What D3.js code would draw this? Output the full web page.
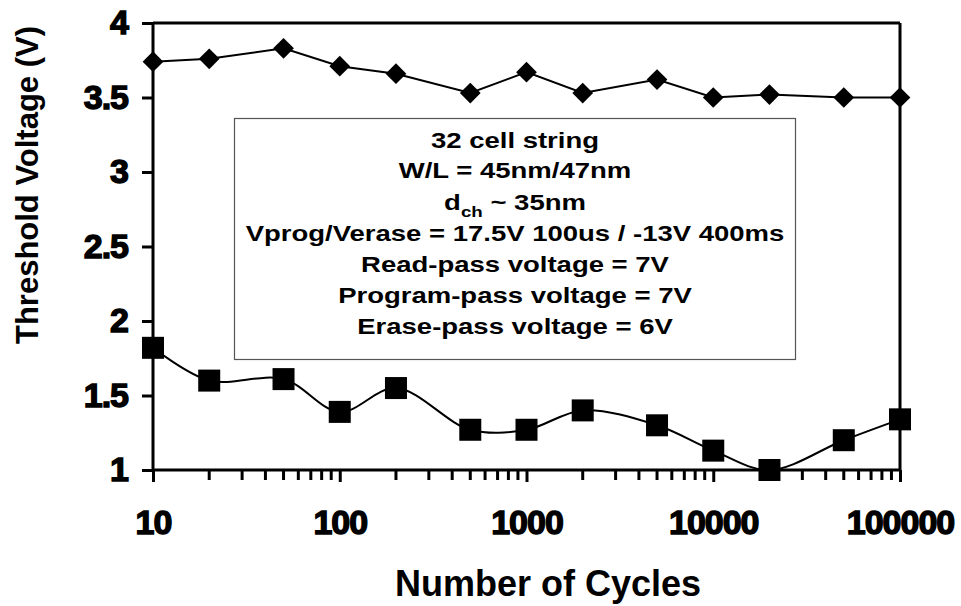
<!DOCTYPE html>
<html>
<head>
<meta charset="utf-8">
<script src="https://cdn.jsdelivr.net/npm/d3@7/dist/d3.min.js"></script>
<style>
  html, body { margin: 0; padding: 0; background: #fff; }
  svg { display: block; }
  text { font-family: "Liberation Sans", Arial, sans-serif; fill: #000; }
</style>
</head>
<body>
<svg id="chart" width="961" height="606"></svg>
<script>
// ---- data ----
const cycles = [10, 20, 50, 100, 200, 500, 1000, 2000, 5000, 10000, 20000, 50000, 100000];
const erasedVt = [3.74, 3.76, 3.83, 3.71, 3.66, 3.53, 3.67, 3.53, 3.62, 3.50, 3.52, 3.50, 3.50];
const programmedVt = [1.82, 1.60, 1.61, 1.39, 1.55, 1.27, 1.27, 1.40, 1.30, 1.13, 1.00, 1.20, 1.34];
const xTickValues = [10, 100, 1000, 10000, 100000];
const yTickValues = [1, 1.5, 2, 2.5, 3, 3.5, 4];
const yTickLabels = ["1", "1.5", "2", "2.5", "3", "3.5", "4"];
const infoLines = [
  "32 cell string",
  "W/L = 45nm/47nm",
  "d_ch ~ 35nm",
  "Vprog/Verase = 17.5V 100us / -13V 400ms",
  "Read-pass voltage = 7V",
  "Program-pass voltage = 7V",
  "Erase-pass voltage = 6V"
];
const xTitle = "Number of Cycles";
const yTitle = "Threshold Voltage (V)";

(function () {
// ---- layout ----
const svg = d3.select("#chart");
const pLeft = 153, pRight = 900, pTop = 23, pBottom = 470;

const x = d3.scaleLog().domain([10, 100000]).range([pLeft, pRight]);
const y = d3.scaleLinear().domain([1, 4]).range([pBottom, pTop]);

// minor ticks
const minorTicks = [];
for (let d = 10; d < 100000; d *= 10) for (let k = 2; k <= 9; k++) minorTicks.push(d * k);

// frame (top & right)
svg.append("line").attr("x1", pLeft).attr("x2", pRight).attr("y1", pTop).attr("y2", pTop)
  .attr("stroke", "#000").attr("stroke-width", 3);
svg.append("line").attr("x1", pRight).attr("x2", pRight).attr("y1", pTop).attr("y2", pBottom)
  .attr("stroke", "#000").attr("stroke-width", 3);

// x axis
const xAxis = d3.axisBottom(x).tickValues(xTickValues).tickFormat(d3.format("d")).tickSize(12).tickPadding(28);
const gx = svg.append("g").attr("transform", `translate(0,${pBottom})`).call(xAxis);
gx.select(".domain").attr("stroke-width", 3).attr("d", `M${pLeft},0H${pRight}`);
gx.selectAll(".tick line").attr("stroke-width", 3);
gx.selectAll(".tick text")
  .attr("font-size", 34).attr("font-weight", "bold").attr("letter-spacing", "-1px")
  .attr("stroke", "#000").attr("stroke-width", 1.4)
  .attr("font-family", "'Liberation Sans', Arial, sans-serif");
svg.append("g").selectAll("line").data(minorTicks).join("line")
  .attr("x1", d => x(d)).attr("x2", d => x(d))
  .attr("y1", pBottom).attr("y2", pBottom + 10)
  .attr("stroke", "#000").attr("stroke-width", 3);

// y axis
const yAxis = d3.axisLeft(y).tickValues(yTickValues)
  .tickFormat((d, i) => yTickLabels[i]).tickSize(11).tickPadding(14);
const gy = svg.append("g").attr("transform", `translate(${pLeft},0)`).call(yAxis);
gy.select(".domain").attr("stroke-width", 3).attr("d", `M0,${pBottom}V${pTop}`);
gy.selectAll(".tick line").attr("stroke-width", 3);
gy.selectAll(".tick text")
  .attr("font-size", 34).attr("font-weight", "bold").attr("letter-spacing", "-1px")
  .attr("stroke", "#000").attr("stroke-width", 1.4)
  .attr("font-family", "'Liberation Sans', Arial, sans-serif");

// titles
svg.append("text").attr("x", 548).attr("y", 596).attr("text-anchor", "middle")
  .attr("font-size", 36).attr("font-weight", "bold").text(xTitle);
svg.append("text").attr("transform", "translate(38,185) rotate(-90)").attr("text-anchor", "middle")
  .attr("font-size", 31).attr("font-weight", "bold").text(yTitle);

// info box
svg.append("rect").attr("x", 234.5).attr("y", 118.5).attr("width", 561).attr("height", 241)
  .attr("fill", "#fff").attr("stroke", "#555").attr("stroke-width", 1.2);
const baselines = [148, 178, 210, 241, 272, 303, 334];
const cx = 515;
infoLines.forEach((line, i) => {
  const t = svg.append("text")
    .attr("transform", `translate(${cx},${baselines[i]}) scale(1.25,1)`)
    .attr("text-anchor", "middle")
    .attr("font-size", 22).attr("font-weight", "bold");
  if (line.startsWith("d_ch")) {
    t.append("tspan").text("d");
    t.append("tspan").attr("font-size", 15).attr("dy", 7).text("ch");
    t.append("tspan").attr("dy", -7).text(line.slice(4));
  } else {
    t.text(line);
  }
});

// series
const ptsE = cycles.map((c, i) => [x(c), y(erasedVt[i])]);
const ptsP = cycles.map((c, i) => [x(c), y(programmedVt[i])]);
svg.append("path").attr("d", d3.line()(ptsE)).attr("fill", "none").attr("stroke", "#000").attr("stroke-width", 2);
svg.append("path").attr("d", d3.line().curve(d3.curveCatmullRom.alpha(0.5))(ptsP))
  .attr("fill", "none").attr("stroke", "#000").attr("stroke-width", 2);

svg.append("g").selectAll("path").data(ptsE).join("path")
  .attr("d", d3.symbol(d3.symbolSquare, 215)())
  .attr("transform", d => `translate(${d[0]},${d[1]}) rotate(45)`)
  .attr("fill", "#000");
svg.append("g").selectAll("rect").data(ptsP).join("rect")
  .attr("x", d => d[0] - 11).attr("y", d => d[1] - 11)
  .attr("width", 22).attr("height", 22).attr("fill", "#000");
})();
</script>
</body>
</html>
